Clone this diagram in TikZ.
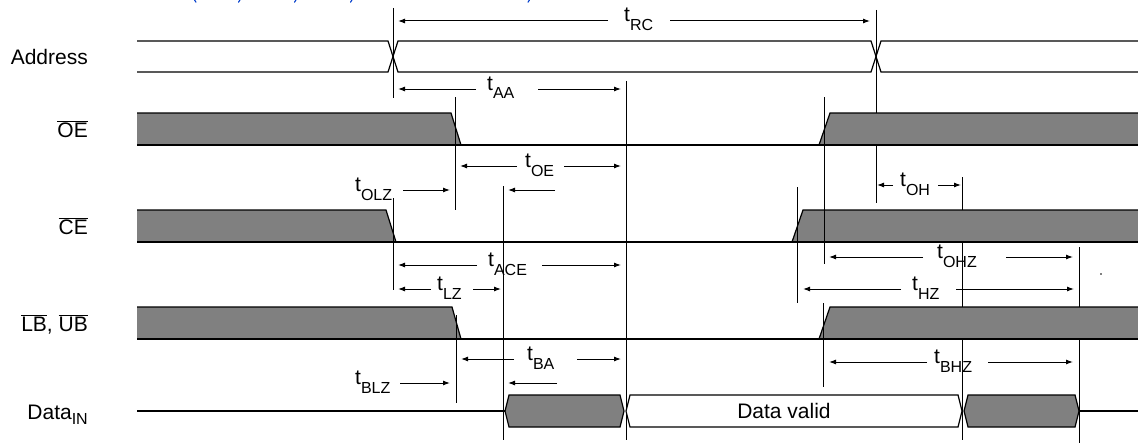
\documentclass[tikz,border=0pt]{standalone}
\usepackage{fontspec}
\setmainfont{Liberation Sans}
\usetikzlibrary{arrows.meta}
\newcommand\tsub[1]{t\raisebox{-9pt}{\fontsize{16}{16}\selectfont #1}}
\newcommand\ovl[1]{$\overline{\mbox{#1}}$}
\begin{document}
\begin{tikzpicture}[x=1pt,y=-1pt,
  sig/.style={line width=1.2pt, line join=miter},
  vl/.style={line width=1pt},
  dim/.style={line width=1pt,-{Latex[length=7pt,width=5pt]}},
  lab/.style={font=\fontsize{21}{24}\selectfont, inner sep=0pt},
  bluemark/.style={draw=blue!70!cyan!80!black, line width=1.1pt, line cap=round}]
\useasboundingbox (0,0) rectangle (1138,444);
\fill[white] (0,0) rectangle (1138,444);

% fragments of a blue caption line cut off at the top edge
\draw[bluemark] (194.5,0) -- (196,2.2);
\draw[bluemark] (240,0) -- (238.5,2.2);
\draw[bluemark] (296,0) -- (294.5,2.2);
\draw[bluemark] (352,0) -- (350.5,2.2);
\draw[bluemark] (529.5,0) -- (528,2.2);

% verticals hidden behind the grey levels
\draw[vl] (876,10) -- (876,203);
\draw[vl] (962,177) -- (962,440);
\draw[vl] (1079,247) -- (1079,443);
\draw[vl] (393,8) -- (393,98);
\draw[vl] (626,81) -- (626,440);
\draw[vl] (503,186) -- (503,440);

% Address
\draw[sig] (137,41) -- (388,41) -- (393,56.5) -- (388,72) -- (137,72);
\draw[sig] (398,41) -- (393,56.5) -- (398,72) -- (871,72) -- (876,56.5) -- (871,41) -- cycle;
\draw[sig] (1138,41) -- (881,41) -- (876,56.5) -- (881,72) -- (1138,72);

% OE
\fill[gray] (137,113) -- (451,113) -- (461,145) -- (137,145) -- cycle;
\draw[sig] (137,113) -- (451,113) -- (461,145);
\fill[gray] (819,145) -- (830,113) -- (1138,113) -- (1138,145) -- cycle;
\draw[sig] (819,145) -- (830,113) -- (1138,113);
\draw[sig] (137,145) -- (1138,145);

% CE
\fill[gray] (137,210) -- (386,210) -- (396,242) -- (137,242) -- cycle;
\draw[sig] (137,210) -- (386,210) -- (396,242);
\fill[gray] (792,242) -- (803,210) -- (1138,210) -- (1138,242) -- cycle;
\draw[sig] (792,242) -- (803,210) -- (1138,210);
\draw[sig] (137,242) -- (1138,242);

% LB, UB
\fill[gray] (137,307) -- (452,307) -- (461,339) -- (137,339) -- cycle;
\draw[sig] (137,307) -- (452,307) -- (461,339);
\fill[gray] (819,339) -- (830,307) -- (1138,307) -- (1138,339) -- cycle;
\draw[sig] (819,339) -- (830,307) -- (1138,307);
\draw[sig] (137,339) -- (1138,339);

% Data in
\draw[sig] (137,411) -- (505,411);
\draw[sig, fill=gray] (505,411) -- (509,395) -- (620,395) -- (624,411) -- (620,427) -- (509,427) -- cycle;
\draw[sig, fill=white] (626,411) -- (630,395) -- (958,395) -- (962,411) -- (958,427) -- (630,427) -- cycle;
\draw[sig, fill=gray] (964,411) -- (968,395) -- (1075,395) -- (1079,411) -- (1075,427) -- (968,427) -- cycle;
\draw[sig] (1079,411) -- (1138,411);
\node[lab] (dv) at (784,411) {Data valid};

% edge markers drawn over the levels
\draw[vl] (455,97) -- (455,210);
\draw[vl] (824,97) -- (824,264);
\draw[vl] (393,198) -- (393,290);
\draw[vl] (797,187) -- (797,303);
\draw[vl] (823,303) -- (823,387);
\draw[vl] (456,315) -- (456,403);

% signal names
\node[lab, anchor=base east] (nAddr) at (88,65) {Address};
\node[lab, anchor=base east] (nOE) at (88,137) {\ovl{OE}};
\node[lab, anchor=base east] (nCE) at (88,234) {\ovl{CE}};
\node[lab, anchor=base east] (nLB) at (88,331) {\ovl{LB}, \ovl{UB}};
\node[lab, anchor=base east] (nData) at (88,419) {Data\raisebox{-5pt}{\fontsize{16}{16}\selectfont IN}};

% timing dimensions
\draw[dim] (608,21) -- (398,21);  \draw[dim] (670,21) -- (870,21);
\node[lab, anchor=base west] (lRC) at (624,22) {\tsub{RC}};
\draw[dim] (476,89) -- (398,89);  \draw[dim] (538,89) -- (621,89);
\node[lab, anchor=base west] (lAA) at (487,90) {\tsub{AA}};
\draw[dim] (517,166) -- (460,166); \draw[dim] (564,166) -- (621,166);
\node[lab, anchor=base west] (lOE) at (525,167) {\tsub{OE}};
\draw[dim] (403,190) -- (450,190);
\node[lab, anchor=base west] (lOLZ) at (355,191) {\tsub{OLZ}};
\draw[dim] (555,190) -- (508,190);
\draw[dim] (893,185) -- (877,185); \draw[dim] (938,185) -- (961,185);
\node[lab, anchor=base west] (lOH) at (900,186) {\tsub{OH}};
\draw[dim] (477,265) -- (398,265); \draw[dim] (542,265) -- (621,265);
\node[lab, anchor=base west] (lACE) at (488,266) {\tsub{ACE}};
\draw[dim] (431,289) -- (398,289); \draw[dim] (473,289) -- (501,289);
\node[lab, anchor=base west] (lLZ) at (437,290) {\tsub{LZ}};
\draw[dim] (923,257) -- (829,257); \draw[dim] (1006,257) -- (1073,257);
\node[lab, anchor=base west] (lOHZ) at (937,258) {\tsub{OHZ}};
\draw[dim] (901,289) -- (803,289); \draw[dim] (956,289) -- (1074,289);
\node[lab, anchor=base west] (lHZ) at (912,290) {\tsub{HZ}};
\draw[dim] (514,359) -- (461,359); \draw[dim] (577,359) -- (621,359);
\node[lab, anchor=base west] (lBA) at (527,360) {\tsub{BA}};
\draw[dim] (400,383) -- (450,383);
\node[lab, anchor=base west] (lBLZ) at (355,384) {\tsub{BLZ}};
\draw[dim] (557,383) -- (508,383);
\draw[dim] (927,362) -- (829,362); \draw[dim] (988,362) -- (1073,362);
\node[lab, anchor=base west] (lBHZ) at (934,363) {\tsub{BHZ}};

% stray dot
\fill (1101,274) circle (0.8);
\end{tikzpicture}
\end{document}
